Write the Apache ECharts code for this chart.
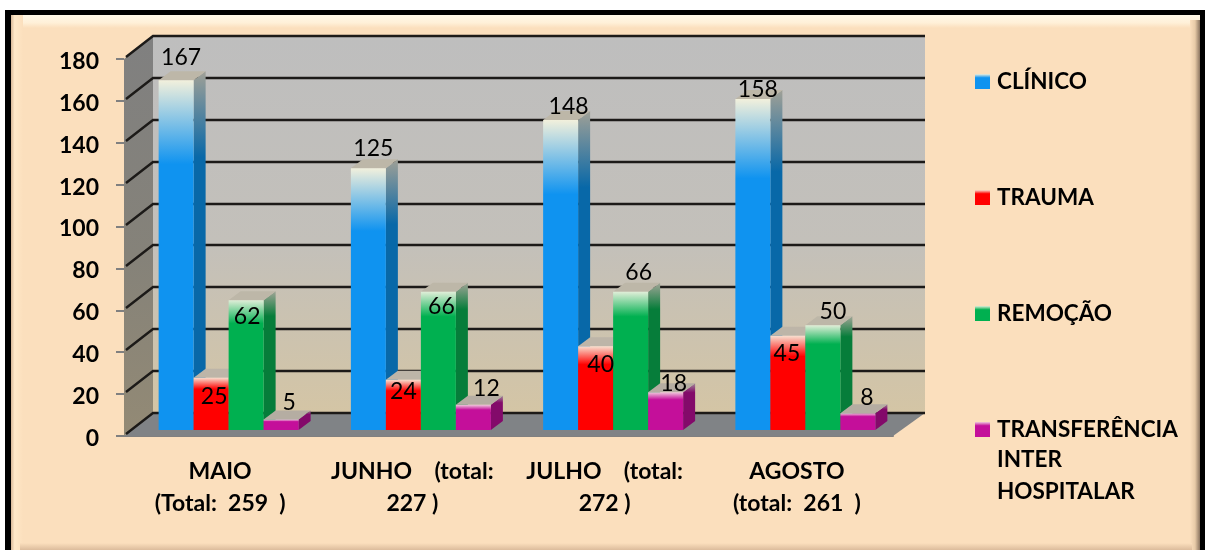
<!DOCTYPE html>
<html>
<head>
<meta charset="utf-8">
<style>
  html, body { margin: 0; padding: 0; background: #fff; }
  #chart { width: 1208px; height: 550px; }
</style>
<script src="https://cdn.jsdelivr.net/npm/echarts@6/dist/echarts.min.js"></script>
</head>
<body>
<div id="chart"></div>
<script>
const categories = ["MAIO\n(Total:  259  )", "JUNHO    (total:\n227 )", "JULHO    (total:\n272 )", "AGOSTO\n(total:  261  )"];
const clinico = [167, 125, 148, 158];
const trauma = [25, 24, 40, 45];
const remocao = [62, 66, 66, 50];
const transferencia = [5, 12, 18, 8];
const valueTicks = [0, 20, 40, 60, 80, 100, 120, 140, 160, 180];

// os rótulos foram movidos à mão no original: [dx, dy] a partir do topo da barra
const nudgeClinico = [[5, -23], [5, -20], [8, -13], [5, -9]];
const nudgeTrauma = [[3, 19], [0, 12], [5, 18], [-1, 18]];
const nudgeRemocao = [[1, 16], [3, 15], [8, -19], [10, -14]];
const nudgeTransf = [[8, -17], [13, -16], [8, -9], [9, -16]];

const FONT = "Lato";
const BAR_W = 35;
const BAR_SHIFT = [8.5, -6];   // barras ficam no meio da profundidade
const BAR_DEPTH = [12, -9];
const BACK_L = 29, BACK_R = 32, BACK_UP = 23;

const grad = (stops, x2 = 0, y2 = 1) =>
  new echarts.graphic.LinearGradient(0, 0, x2, y2, stops.map(([offset, color]) => ({ offset, color })));

function wallItem(params, api) {
  const g = params.coordSys;
  const x0 = g.x, x1 = g.x + g.width, y0 = g.y, y1 = g.y + g.height;
  const children = [
    { type: "polygon", shape: { points: [[x0 + BACK_L, y0 - BACK_UP], [x1 + BACK_R, y0 - BACK_UP], [x1 + BACK_R, y1 - BACK_UP], [x0 + BACK_L, y1 - BACK_UP]] },
      style: { fill: grad([[0, "#bebebe"], [0.55, "#c3c0ba"], [1, "#d4c5a5"]]) } },
    { type: "polygon", shape: { points: [[x0, y0], [x0 + BACK_L, y0 - BACK_UP], [x0 + BACK_L, y1 - BACK_UP], [x0, y1]] },
      style: { fill: grad([[0, "#808080"], [0.55, "#858279"], [1, "#938a75"]]) } },
    { type: "polygon", shape: { points: [[x0, y1], [x0 + BACK_L, y1 - BACK_UP], [x1 + BACK_R, y1 - BACK_UP], [x1, y1]] },
      style: { fill: "#808386" } }
  ];
  valueTicks.forEach(v => {
    const y = Math.round(api.coord([0, v])[1]);
    children.push({ type: "polyline", shape: { points: [[x0 + 2, y - 2], [x0 + BACK_L, y - BACK_UP], [x1 + BACK_R, y - BACK_UP]] },
      style: { fill: null, stroke: "#1c1a18", lineWidth: 2.4 } });
  });
  return { type: "group", children };
}

function barItem(idx, look, nudges) {
  return (params, api) => {
    const i = api.value(0), v = api.value(1);
    const band = api.coord([i, 0])[0];
    const x = band + (idx - 1.5) * BAR_W - BAR_W / 2 + BAR_SHIFT[0];
    const yb = api.coord([i, 0])[1] + BAR_SHIFT[1];
    const yt = api.coord([i, v])[1] + BAR_SHIFT[1];
    const [dx, dy] = BAR_DEPTH;
    const r = x + BAR_W;
    const [nx, ny] = nudges[i];
    return {
      type: "group",
      children: [
        { type: "polygon", shape: { points: [[r, yt], [r + dx, yt + dy], [r + dx, yb + dy], [r, yb]] },
          style: { fill: grad([[0, look.sideTop], [look.stop, look.side], [1, look.side]]) } },
        { type: "polygon", shape: { points: [[x, yt], [x + dx, yt + dy], [r + dx, yt + dy], [r, yt]] },
          style: { fill: look.top } },
        { type: "rect", shape: { x, y: yt, width: BAR_W, height: yb - yt },
          style: { fill: grad([[0, look.pale], [look.stop, look.color], [1, look.color]]) } },
        { type: "text", z2: 100, x: x + BAR_W / 2 + nx, y: yt + ny,
          style: { text: String(v), fill: "#000", font: "23px " + FONT, align: "center", verticalAlign: "middle" } }
      ]
    };
  };
}

const looks = [
  { color: "#0f93f0", pale: "#f2f0dc", side: "#0868a8", sideTop: "#a0a096", top: "#bdb7a8", stop: 0.24 },
  { color: "#ff0000", pale: "#f8e0d0", side: "#b00000", sideTop: "#a09088", top: "#bdb5a8", stop: 0.22 },
  { color: "#00b050", pale: "#e0eed8", side: "#067d3a", sideTop: "#a0a496", top: "#bdb7a8", stop: 0.18 },
  { color: "#c40f9a", pale: "#f0c8dc", side: "#830a6a", sideTop: "#a08898", top: "#b5ada2", stop: 0.2 }
];

const names = ["CLÍNICO", "TRAUMA", "REMOÇÃO", "TRANSFERÊNCIA INTER HOSPITALAR"];
const values = [clinico, trauma, remocao, transferencia];
const nudges = [nudgeClinico, nudgeTrauma, nudgeRemocao, nudgeTransf];

const chart = echarts.init(document.getElementById("chart"));
chart.setOption({
  animation: false,
  backgroundColor: "#fff",
  textStyle: { fontFamily: FONT },
  graphic: [
    { type: "rect", z: -10, shape: { x: 5, y: 10, width: 1200, height: 545 }, style: { fill: "#000" } },
    { type: "rect", z: -9, shape: { x: 11, y: 15, width: 1189, height: 535 }, style: { fill: "#fbdfbd" } },
    // chanfro da moldura
    { type: "rect", z: -8, shape: { x: 11, y: 15, width: 1189, height: 13 },
      style: { fill: grad([[0, "#fff8e8"], [0.6, "#fff0d8"], [1, "#fbdfbd"]]) } },
    { type: "rect", z: -8, shape: { x: 11, y: 15, width: 12, height: 535 },
      style: { fill: grad([[0, "#d8b898"], [0.3, "#ffe8c8"], [1, "#fbdfbd"]], 1, 0) } },
    { type: "rect", z: -8, shape: { x: 1190, y: 20, width: 10, height: 530 },
      style: { fill: grad([[0, "#fbdfbd"], [0.5, "#e8cba8"], [1, "#8a7460"]], 1, 0) } },
    { type: "rect", z: -8, shape: { x: 20, y: 543, width: 1172, height: 7 },
      style: { fill: grad([[0, "#fbdfbd"], [1, "#dcbc9c"]]) } },
    { type: "text", z: 5, x: 997, y: 444,
      style: { text: "INTER\nHOSPITALAR", fill: "#000", font: "bold 22.5px " + FONT, lineHeight: 32 } }
  ],
  grid: { left: 124, right: 315, top: 59, bottom: 114 },
  legend: {
    orient: "vertical",
    left: 975,
    top: 70,
    padding: 0,
    itemGap: 93,
    itemWidth: 15,
    itemHeight: 15,
    icon: "rect",
    selectedMode: false,
    formatter: n => n.split(" ")[0],
    textStyle: { color: "#000", fontFamily: FONT, fontWeight: "bold", fontSize: 22.5, padding: [0, 0, 0, 2] },
    data: names.map((name, i) => ({
      name,
      itemStyle: { color: grad([[0, looks[i].pale], [0.25, looks[i].color], [1, looks[i].color]]) }
    }))
  },
  xAxis: {
    type: "category",
    data: categories,
    axisLine: { lineStyle: { color: "#808080", width: 2 } },
    axisTick: { length: 9, lineStyle: { color: "#808080", width: 2 } },
    axisLabel: { color: "#000", fontFamily: FONT, fontWeight: "bold", fontSize: 23, lineHeight: 32, margin: 20, interval: 0 }
  },
  yAxis: {
    type: "value",
    min: 0,
    max: 180,
    interval: 20,
    axisLine: { show: false },
    axisTick: { show: true, length: 8, lineStyle: { color: "#808080", width: 2 } },
    splitLine: { show: false },
    axisLabel: {
      margin: 25,
      formatter: "{n|{value}}",
      rich: { n: { color: "#000", fontFamily: FONT, fontWeight: "bold", fontSize: 23, padding: [5, 0, 0, 0] } }
    }
  },
  series: [
    { type: "custom", name: "parede", silent: true, clip: false, z: 1, renderItem: wallItem, data: [[0, 0]], encode: { x: 0, y: 1 } },
    ...names.map((name, idx) => ({
      type: "custom",
      name,
      z: 3,
      silent: true,
      clip: false,
      itemStyle: { color: looks[idx].color },
      renderItem: barItem(idx, looks[idx], nudges[idx]),
      encode: { x: 0, y: 1 },
      data: values[idx].map((v, i) => [i, v])
    }))
  ]
});
</script>
</body>
</html>
